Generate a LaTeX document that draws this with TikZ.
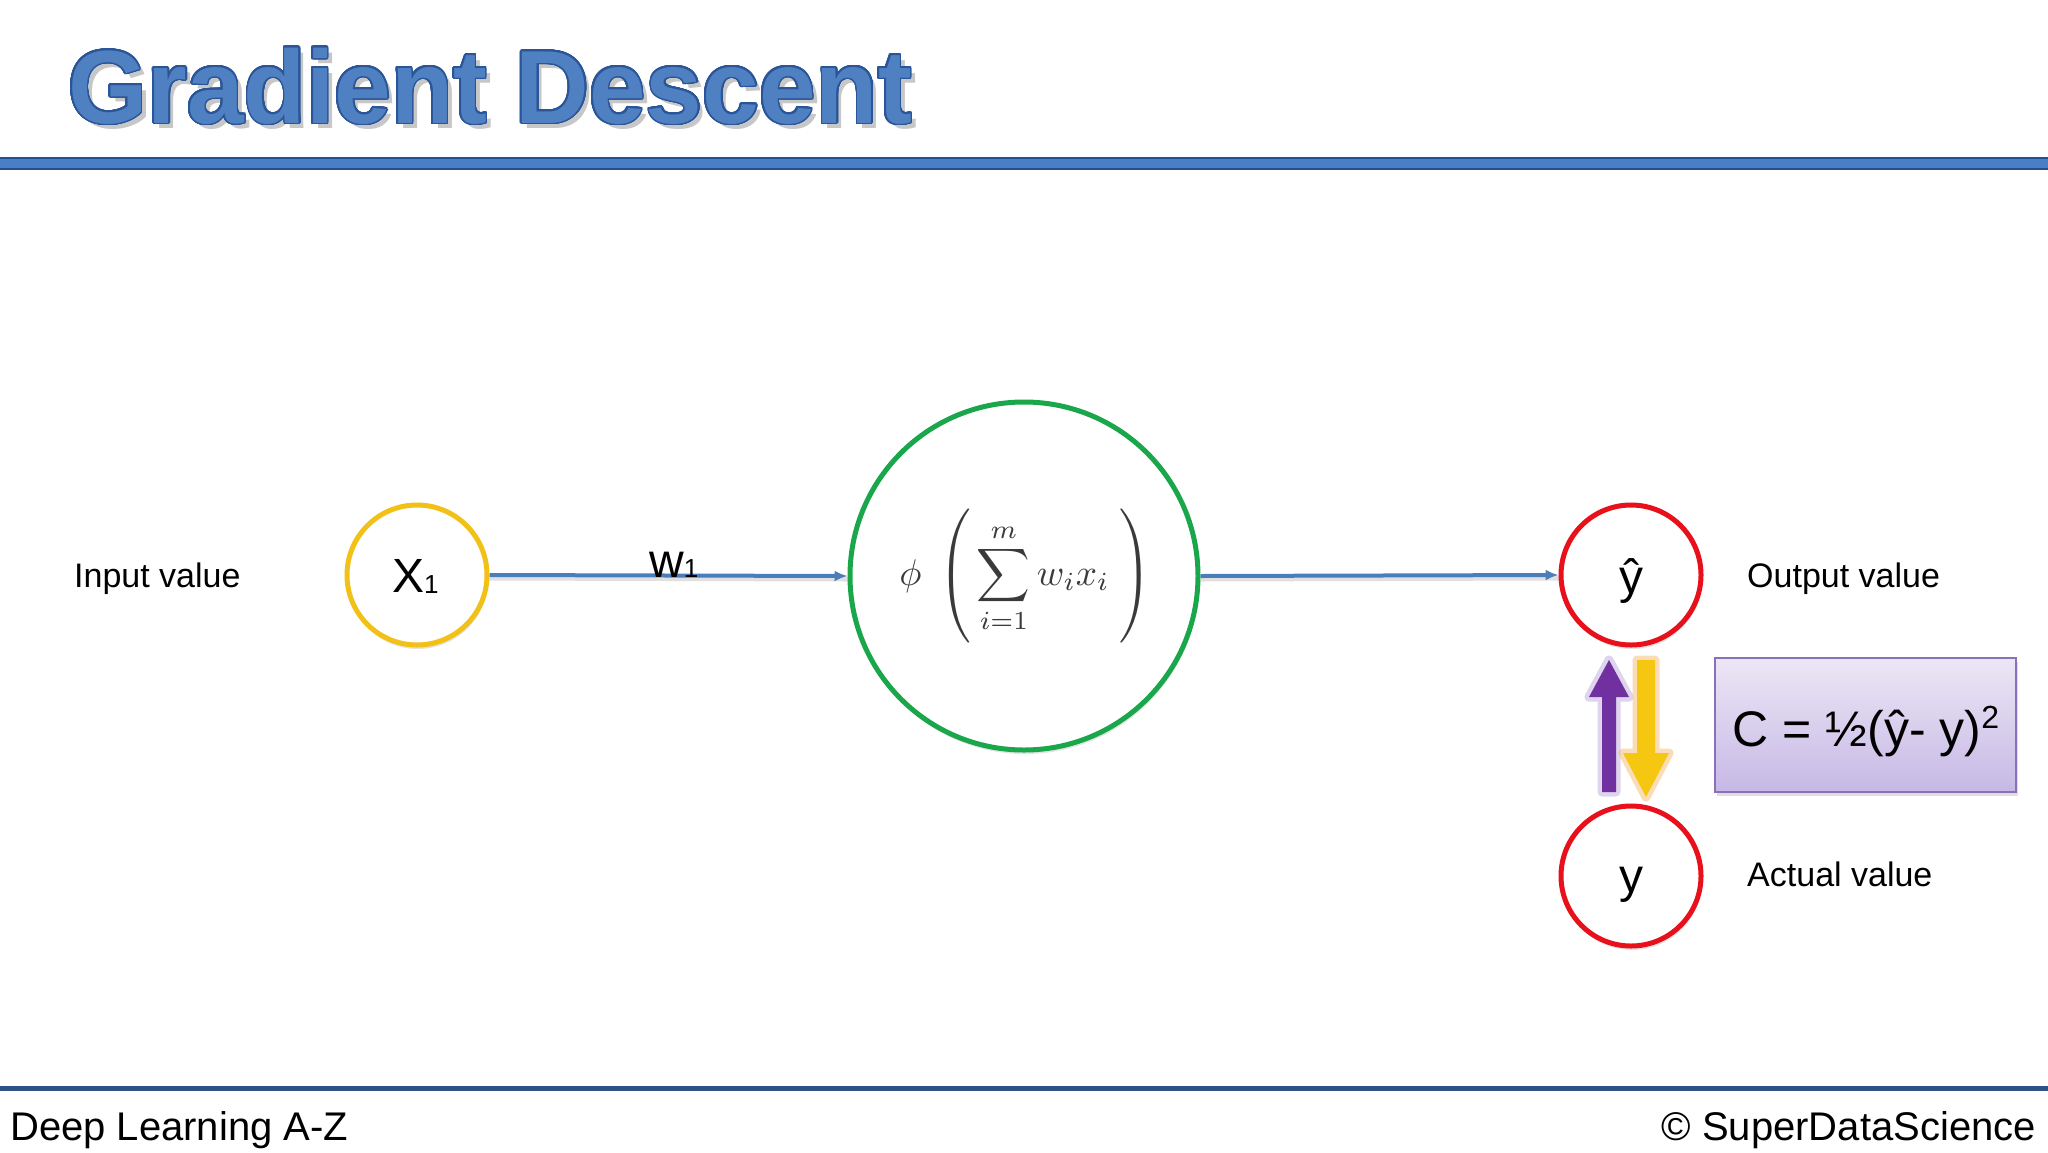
\documentclass[tikz,border=0pt]{standalone}
\usepackage{graphicx}
\usepackage{fontspec}
\setmainfont{Liberation Sans}
\newfontfamily\titlefont[FakeStretch=0.98]{Liberation Sans Bold}
\usepackage{contour}
\usetikzlibrary{arrows.meta,shadows}
\definecolor{titlefill}{HTML}{4F81C2}
\definecolor{titleedge}{HTML}{2A5699}
\definecolor{rulefill}{HTML}{4A7FC8}
\definecolor{ruleedge}{HTML}{23508F}
\definecolor{footrule}{HTML}{2E5286}
\definecolor{linkblue}{HTML}{4A7DBA}
\definecolor{inyellow}{HTML}{F2C117}
\definecolor{neurongreen}{HTML}{1AA64A}
\definecolor{outred}{HTML}{E8101A}
\definecolor{uppurple}{HTML}{7030A0}
\definecolor{purpleglow}{HTML}{B7A0D8}
\definecolor{downyellow}{HTML}{F5C710}
\definecolor{yellowglow}{HTML}{F5B560}
\definecolor{boxtop}{HTML}{ECE7F5}
\definecolor{boxbot}{HTML}{C6B8E6}
\definecolor{boxedge}{HTML}{8970B8}
\definecolor{formulagray}{HTML}{3A3A3A}
\contourlength{1.6pt}
\begin{document}
\begin{tikzpicture}[x=1pt,y=-1pt,
  unit/.style={circle, fill=white, line width=5pt, minimum size=140pt, inner sep=0pt,
    drop shadow={shadow xshift=1pt, shadow yshift=-4pt, opacity=0.22}},
  label/.style={font=\fontsize{34}{40}\selectfont, inner sep=0pt},
  link/.style={draw=linkblue, line width=4pt, -{Latex[length=13pt,width=11pt]}},
  linkshadow/.style={draw=black, opacity=0.12, line width=5pt},
  glyph/.style={font=\fontsize{48}{56}\selectfont, inner sep=0pt}
]
\useasboundingbox (0,0) rectangle (2048,1152);
\fill[white] (0,0) rectangle (2048,1152);

% title
\node[anchor=base west, inner sep=0pt, text=black, opacity=0.22] (titleshadow) at (73,128)
  {\titlefont\fontsize{104}{110}\selectfont Gradient Descent};
\node[anchor=base west, inner sep=0pt, text=titlefill] (title) at (68,123)
  {\titlefont\fontsize{104}{110}\selectfont\contour[32]{titleedge}{Gradient Descent}};
\fill[rulefill, draw=ruleedge, line width=1.5pt] (-2,158) rectangle (2050,169);

% footer
\fill[footrule] (-2,1086) rectangle (2050,1091);
\node[anchor=base west, inner sep=0pt, font=\fontsize{40}{46}\selectfont] (course) at (10,1140) {Deep Learning A-Z};
\node[anchor=base east, inner sep=0pt, font=\fontsize{40}{46}\selectfont] (brand) at (2036,1140) {© SuperDataScience};

% nodes
\node[unit, draw=inyellow] (x1) at (417,575) {};
\node[glyph, anchor=base west] (x1txt) at (392,592) {X\raisebox{-1pt}{\fontsize{26}{26}\selectfont 1}};
\node[unit, draw=neurongreen, minimum size=348pt] (neuron) at (1024,576) {};
\node[text=formulagray, inner sep=0pt] (formula) at (1026,575)
  {\resizebox{253pt}{!}{$\displaystyle \phi\;\left(\rule[-1.6em]{0pt}{3.75em}\sum_{i=1}^{m} w_i x_i\;\right)$}};
\node[unit, draw=outred] (yhat) at (1631,575) {};
\node[glyph, anchor=base] (yhattxt) at (1631,593) {ŷ};
\node[unit, draw=outred] (yact) at (1631,876) {};
\node[glyph, anchor=base] (yacttxt) at (1631,892) {y};

% labels
\node[label, anchor=base west] (inlab) at (74,587) {Input value};
\node[label, anchor=base west] (outlab) at (1747,587) {Output value};
\node[label, anchor=base west] (actlab) at (1747,886) {Actual value};

% links
\draw[linkshadow] ([yshift=-3pt]x1.east) -- ([yshift=-3pt]neuron.west);
\draw[linkshadow] ([yshift=-3pt]neuron.east) -- ([yshift=-3pt]yhat.west);
\draw[link] (x1.east) -- (neuron.west);
\draw[link] (neuron.east) -- (yhat.west);
\node[glyph, anchor=base west] (w1) at (649,577) {w\fontsize{26}{26}\selectfont 1};

% block arrows
\path[draw=purpleglow, line width=9pt, opacity=0.45, line join=round]
  (1602,792) -- (1602,697) -- (1589,697) -- (1609,660) -- (1629,697) -- (1616,697) -- (1616,792) -- cycle;
\fill[uppurple]
  (1602,792) -- (1602,697) -- (1589,697) -- (1609,660) -- (1629,697) -- (1616,697) -- (1616,792) -- cycle;
\path[draw=yellowglow, line width=9pt, opacity=0.45, line join=round]
  (1637,660) -- (1637,753) -- (1623,753) -- (1646,797) -- (1669,753) -- (1655,753) -- (1655,660) -- cycle;
\fill[downyellow]
  (1637,660) -- (1637,753) -- (1623,753) -- (1646,797) -- (1669,753) -- (1655,753) -- (1655,660) -- cycle;

% cost box
\node[draw=boxedge, line width=2pt, top color=boxtop, bottom color=boxbot,
  minimum width=301pt, minimum height=134pt, inner sep=0pt,
  drop shadow={shadow xshift=2pt, shadow yshift=-4pt, opacity=0.25}] (cost) at (1865.5,725) {};
\node[font=\fontsize{50}{58}\selectfont, inner sep=0pt, anchor=base] (costtxt) at (1866,746)
  {C = ½(ŷ- y)\raisebox{0.36em}{\fontsize{32}{32}\selectfont 2}};
\end{tikzpicture}
\end{document}
